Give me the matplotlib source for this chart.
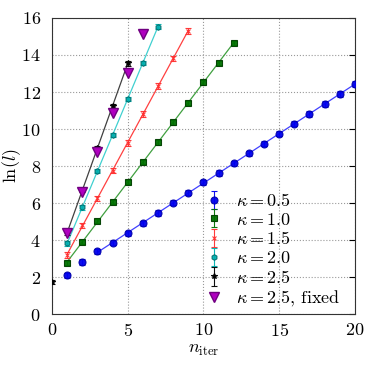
import numpy as np
import matplotlib
matplotlib.use("Agg")
import matplotlib.pyplot as plt

plt.rcParams['font.family'] = ['cmr10', 'DejaVu Serif']
plt.rcParams['mathtext.fontset'] = 'cm'
plt.rcParams['axes.formatter.use_mathtext'] = True
plt.rcParams['font.size'] = 13

# data
n05 = [1, 2, 3, 4, 5, 6, 7, 8, 9, 10, 11, 12, 13, 14, 15, 16, 17, 18, 19, 20]
y05 = [2.09, 2.83, 3.39, 3.86, 4.36, 4.90, 5.46, 6.02, 6.56, 7.12, 7.62, 8.15,
       8.69, 9.21, 9.75, 10.29, 10.81, 11.35, 11.89, 12.43]
n10 = [1, 2, 3, 4, 5, 6, 7, 8, 9, 10, 11, 12]
y10 = [2.77, 3.89, 5.03, 6.07, 7.13, 8.22, 9.28, 10.36, 11.42, 12.52, 13.58, 14.66]
n15 = [1, 2, 3, 4, 5, 6, 7, 8, 9]
y15 = [3.21, 4.79, 6.25, 7.75, 9.26, 10.81, 12.32, 13.82, 15.31]
n20 = [1, 2, 3, 4, 5, 6, 7]
y20 = [3.82, 5.77, 7.73, 9.68, 11.62, 13.58, 15.53]
n25 = [0, 1, 2, 3, 4, 5]
y25 = [1.75, 4.40, 6.70, 8.95, 11.24, 13.55]
nfix = [1, 2, 3, 4, 5, 6]
yfix = [4.36, 6.58, 8.74, 10.85, 13.01, 15.12]

# fit ranges (first n used for each fit line)
fit_start = {'0.5': 3, '1.0': 1, '1.5': 1, '2.0': 1, '2.5': 1}

fig = plt.figure(figsize=(3.74, 3.74), dpi=100)
ax = fig.add_axes([0.139, 0.160, 0.810, 0.792])

series = [
    ('0.5', n05, y05, dict(color='#0000ee', marker='o', ms=5, mec='#0000aa'), '#4040ff', 0.15),
    ('1.0', n10, y10, dict(color='#007000', marker='s', ms=5, mec='#004000'), '#40a040', 0.12),
    ('1.5', n15, y15, dict(color='#ff3030', marker='x', ms=3, mec='#ff3030'), '#ff4040', 0.15),
    ('2.0', n20, y20, dict(color='#00b0b0', marker='h', ms=4, mec='#007070'), '#40d0d0', 0.12),
    ('2.5', n25, y25, dict(color='#000000', marker='*', ms=4, mec='#000000'), '#404040', 0.12),
]

handles = []
for lab, n, y, st, lc, err in series:
    n = np.asarray(n, float); y = np.asarray(y, float)
    m = n >= fit_start[lab]
    p = np.polyfit(n[m], y[m], 1)
    xx = np.array([n[m].min(), n[m].max()])
    ax.plot(xx, np.polyval(p, xx), '-', color=lc, lw=0.9, zorder=2)
    h = ax.errorbar(n, y, yerr=err, fmt=st['marker'], color=st['color'], mec=st['mec'],
                    ms=st['ms'], ecolor=st['color'], elinewidth=0.8, capsize=2, capthick=0.8,
                    mew=0.8, alpha=0.95, zorder=3, label=r'$\kappa = %s$' % lab)
    handles.append(h)

hf, = ax.plot(nfix, yfix, 'v', color='#b000c0', mec='#700080', ms=7, ls='none', zorder=4,
              label=r'$\kappa = 2.5$, fixed')
handles.append(hf)

ax.set_xlim(0, 20)
ax.set_ylim(0, 16)
ax.set_xticks([0, 5, 10, 15, 20])
ax.set_yticks(range(0, 17, 2))
ax.grid(True, ls=':', color='#999999', lw=0.8)
ax.set_axisbelow(True)
ax.tick_params(axis='x', length=0, pad=6, labelsize=13)
ax.tick_params(axis='y', which='both', length=0, pad=8, labelsize=13)
ax.tick_params(axis='y', right=True, direction='in')
for t in ax.yaxis.get_major_ticks():
    t.tick2line.set_markersize(4)
ax.set_xlabel(r'$n_{\mathrm{iter}}$', fontsize=13, labelpad=2)
ax.set_ylabel(r'$\ln(l)$', fontsize=13)
ax.yaxis.set_label_coords(-0.095, 0.5)
for s in ax.spines.values():
    s.set_color('#333333')

ax.legend(handles=handles, loc='lower right', frameon=False, handlelength=1.0,
          handletextpad=0.7, labelspacing=0.15, borderaxespad=0.0, fontsize=13,
          bbox_to_anchor=(0.975, -0.005))

fig.savefig('out.png', dpi=100)
